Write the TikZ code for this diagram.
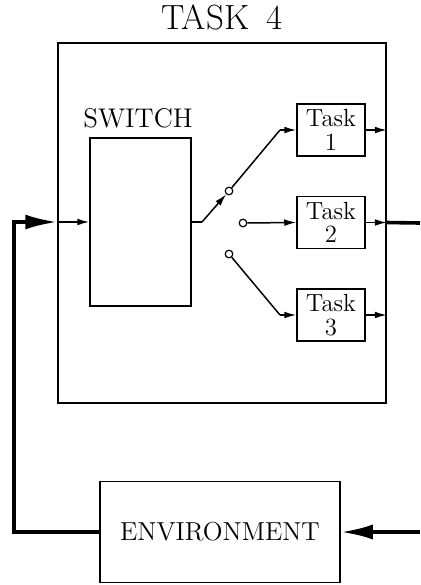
\documentclass[tikz,border=0pt]{standalone}
\usetikzlibrary{arrows.meta}

\tikzset{
  block/.style={draw, line width=0.75pt, inner sep=0pt, align=center},
  taskbox/.style={block, minimum width=34pt, minimum height=26pt,
    font=\fontsize{12.4}{11.7}\selectfont},
  contact/.style={draw, circle, line width=0.6pt, fill=white, inner sep=0pt, minimum size=3.8pt},
  wire/.style={line width=0.75pt},
  feed/.style={line width=1.8pt},
  sarrow/.style={-{Latex[length=6pt,width=3.4pt]}},
  barrow/.style={-{Latex[length=16pt,width=7.5pt]}},
}

\begin{document}
\begin{tikzpicture}[x=0.5pt, y=-0.5pt]
	% Frame, boxes and contacts:
	\useasboundingbox (0,0) rectangle (420,585);
	\node[block, minimum width=164pt, minimum height=180pt] (task4) at (222,223){};
	\node[font=\fontsize{17.5}{20}\selectfont] (title) at (222,17){TASK\enspace 4};
	\node[block, minimum width=50.5pt, minimum height=84pt] (switch) at (140.5,222){};
	\node[font=\fontsize{13.5}{15}\selectfont] (switchlbl) at (138,118){SWITCH};
	\node[taskbox] (t1) at (331,130){Task\\1};
	\node[taskbox] (t2) at (331,222.5){Task\\2};
	\node[taskbox] (t3) at (331,315){Task\\3};
	\node[contact] (c1) at (229,191){};
	\node[contact] (c2) at (243,223){};
	\node[contact] (c3) at (229,254){};
	\node[block, minimum width=120pt, minimum height=50.5pt, font=\fontsize{13}{15}\selectfont] (env) at (220,532){ENVIRONMENT};
	\coordinate (kink) at (202,222);
	\coordinate (up) at (280,130);
	\coordinate (down) at (280,315);
	\coordinate (outR) at (420,223);
	\coordinate (inR) at (420,532);
	\coordinate (loopT) at (14,222);
	% Switch arm and task inputs:
	\draw[wire] (switch.east) -- (kink);
	\draw[wire, sarrow] (kink) -- (c1);
	\draw[wire] (c1) -- (up);
	\draw[wire, sarrow] (up) -- (t1.west);
	\draw[wire, sarrow] (c2) -- (t2.west);
	\draw[wire] (c3) -- (down);
	\draw[wire, sarrow] (down) -- (t3.west);
	% Task outputs:
	\draw[wire, sarrow] (t1.east) -- (t1.east -| task4.east);
	\draw[wire, sarrow] (t2.east) -- (t2.east -| task4.east);
	\draw[wire, sarrow] (t3.east) -- (t3.east -| task4.east);
	\draw[feed] (t2.east -| task4.east) -- (outR);
	% Feedback through the environment:
	\draw[feed, barrow] (inR) -- (env.east);
	\draw[feed, barrow] (env.west) -| (loopT) -- (switch.west -| task4.west);
	\draw[wire, sarrow] (switch.west -| task4.west) -- (switch.west);
\end{tikzpicture}
\end{document}
